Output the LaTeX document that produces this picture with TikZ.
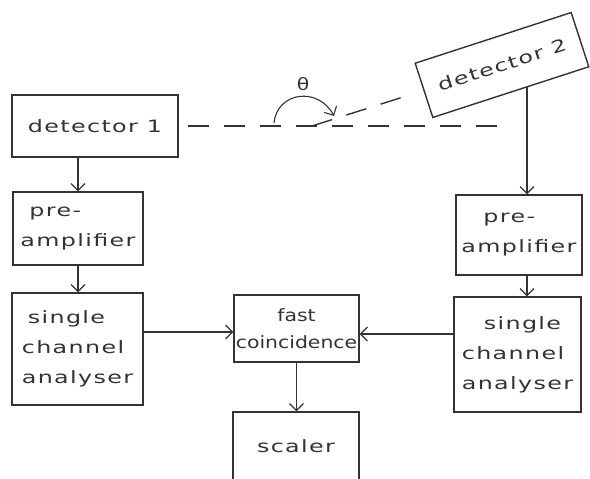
\documentclass[tikz,border=0pt]{standalone}
\usepackage{fontspec}
\usetikzlibrary{arrows.meta,backgrounds}
% hand-lettered look: a wide, loosely spaced sans
\newfontfamily\hand{DejaVu Sans}[FakeStretch=1.4,LetterSpace=8]
\newfontfamily\handtight{DejaVu Sans}[FakeStretch=1.2]
\definecolor{ink}{HTML}{333333}

\begin{document}
\begin{tikzpicture}[x=1pt,y=-1pt,
  box/.style={draw=ink, line width=1.4pt, fill=white, inner sep=0pt,
    align=center, text=ink, font=\hand\fontsize{17}{30}\selectfont},
  link/.style={draw=ink, line width=1.1pt,
    -{Straight Barb[length=7pt,width=14pt,line width=1.1pt]}},
  beam/.style={draw=ink, line width=1.4pt, dash pattern=on 21pt off 15pt}]

\useasboundingbox (0,0) rectangle (590,479);
\clip (0,0) rectangle (590,479);

% left chain
\node[box, minimum width=166pt, minimum height=62pt] (det1) at (95,126) {detector 1};
\node[box, minimum width=130pt, minimum height=73pt, align=left] (preL) at (78,228.5)
  {\hspace*{9pt}pre-\\amplifier};
\node[box, minimum width=131pt, minimum height=112pt, align=left] (scaL) at (77.5,349)
  {\hspace*{6pt}single\\channel\\analyser};

% middle
\node[box, minimum width=125pt, minimum height=67pt,
  font=\handtight\fontsize{17}{27}\selectfont] (fast) at (296.5,328.5) {fast\\coincidence};
\node[box, minimum width=126pt, minimum height=88pt, text height=12pt, text depth=20pt]
  (scaler) at (296,456) {scaler};

% right chain
\node[box, minimum width=126pt, minimum height=80pt, align=left] (preR) at (519,235)
  {\hspace*{22pt}pre-\\amplifier};
\node[box, minimum width=127pt, minimum height=115pt, align=left] (scaR) at (517.5,354.5)
  {\hspace*{22pt}single\\channel\\analyser};
\node[box, minimum width=164pt, minimum height=57pt, rotate=18] (det2) at (502,65) {detector 2};

% signal path
\coordinate (tapR) at (527,0);
\draw[link] (preL.north |- det1.south) -- (preL.north);
\draw[link] (preL.south) -- (preL.south |- scaL.north);
\draw[link] ([yshift=-3.5pt]fast.west -| scaL.east) -- ([yshift=-3.5pt]fast.west);
\draw[link] ([yshift=-5.5pt]fast.east -| scaR.west) -- ([yshift=-5.5pt]fast.east);
\draw[link] (fast.south) -- (fast.south |- scaler.north);
\draw[link] (preR.south -| tapR) -- (scaR.north -| tapR);
\begin{scope}[on background layer]
  \draw[link] (det2.center -| tapR) -- (preR.north -| tapR);
\end{scope}

% beam and scattering angle
\coordinate (beamR) at (503,126);
\coordinate (pivot) at (312,126);
\draw[beam] ([xshift=9pt]det1.east) -- (beamR);
\draw[beam, shorten >=12pt] (pivot) -- (det2.west);
\coordinate (arcA) at (274,123);
\coordinate (arcB) at (334,116);
\draw[link] (arcA) .. controls (277,92) and (318,86) .. (arcB);
\node[text=ink, font=\handtight\fontsize{17}{17}\selectfont] (theta) at (303,84) {θ};
\end{tikzpicture}
\end{document}
